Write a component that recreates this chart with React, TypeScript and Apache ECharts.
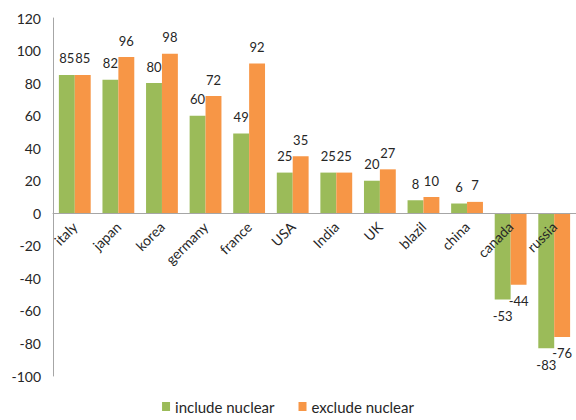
import React, { useEffect, useRef } from "react";
import * as echarts from "echarts";

const countries = ["italy", "japan", "korea", "germany", "france", "USA", "India", "UK", "blazil", "china", "canada", "russia"];
const includeNuclear = [85, 82, 80, 60, 49, 25, 25, 20, 8, 6, -53, -83];
const excludeNuclear = [85, 96, 98, 72, 92, 35, 25, 27, 10, 7, -44, -76];
const seriesNames = ["include nuclear", "exclude nuclear"];

const Y_MIN = -100;
const Y_MAX = 120;
const Y_STEP = 20;

const FONT = "Lato, 'Liberation Sans', sans-serif";
const TEXT = "#262626";

const GRID_TOP = 18;
const GRID_BOTTOM = 44;
const CHART_H = 420;

// Category labels sit just under the zero line, so shift them up from the grid bottom.
const plotH = CHART_H - GRID_TOP - GRID_BOTTOM;
const zeroFromBottom = (plotH * (0 - Y_MIN)) / (Y_MAX - Y_MIN);

const valueLabel = (fontSize: number) => ({
  show: true,
  fontFamily: FONT,
  fontSize,
  color: TEXT,
  distance: 10,
  position: "top" as const,
});

const toData = (values: number[]) =>
  values.map((v) => ({
    value: v,
    label: v < 0 ? { position: "bottom" as const } : undefined,
  }));

export default function App() {
  const ref = useRef<HTMLDivElement>(null);

  useEffect(() => {
    if (!ref.current) return;
    const chart = echarts.init(ref.current, undefined, { renderer: "svg" });
    chart.setOption({
      animation: false,
      backgroundColor: "#ffffff",
      grid: { left: 53, right: 0, top: GRID_TOP, bottom: GRID_BOTTOM, containLabel: false },
      legend: {
        bottom: 1,
        left: "center",
        itemWidth: 8,
        itemHeight: 9,
        itemGap: 24,
        icon: "rect",
        textStyle: { fontFamily: FONT, fontSize: 15, color: TEXT },
        data: seriesNames,
      },
      xAxis: {
        type: "category",
        data: countries,
        z: 5,
        axisLine: { onZero: true, lineStyle: { color: "#A6A6A6", width: 1 } },
        axisTick: { show: false },
        axisLabel: {
          rotate: 45,
          margin: 11 - zeroFromBottom,
          interval: 0,
          fontFamily: FONT,
          fontSize: 14,
          color: TEXT,
        },
      },
      yAxis: {
        type: "value",
        min: Y_MIN,
        max: Y_MAX,
        interval: Y_STEP,
        axisLine: { show: true, lineStyle: { color: "#A6A6A6", width: 1 } },
        axisTick: { show: false },
        splitLine: { show: false },
        axisLabel: { fontFamily: FONT, fontSize: 14, color: TEXT, margin: 12 },
      },
      series: [
        {
          name: seriesNames[0],
          type: "bar",
          data: toData(includeNuclear),
          itemStyle: { color: "#9BBB59" },
          barGap: "0%",
          barCategoryGap: "27%",
          label: valueLabel(13),
        },
        {
          name: seriesNames[1],
          type: "bar",
          data: toData(excludeNuclear),
          itemStyle: { color: "#F79646" },
          barGap: "0%",
          barCategoryGap: "27%",
          label: valueLabel(13),
        },
      ],
    });
    return () => chart.dispose();
  }, []);

  return (
    <div
      ref={ref}
      style={{ position: "fixed", left: 0, top: 0, width: 576, height: 420 }}
    />
  );
}
